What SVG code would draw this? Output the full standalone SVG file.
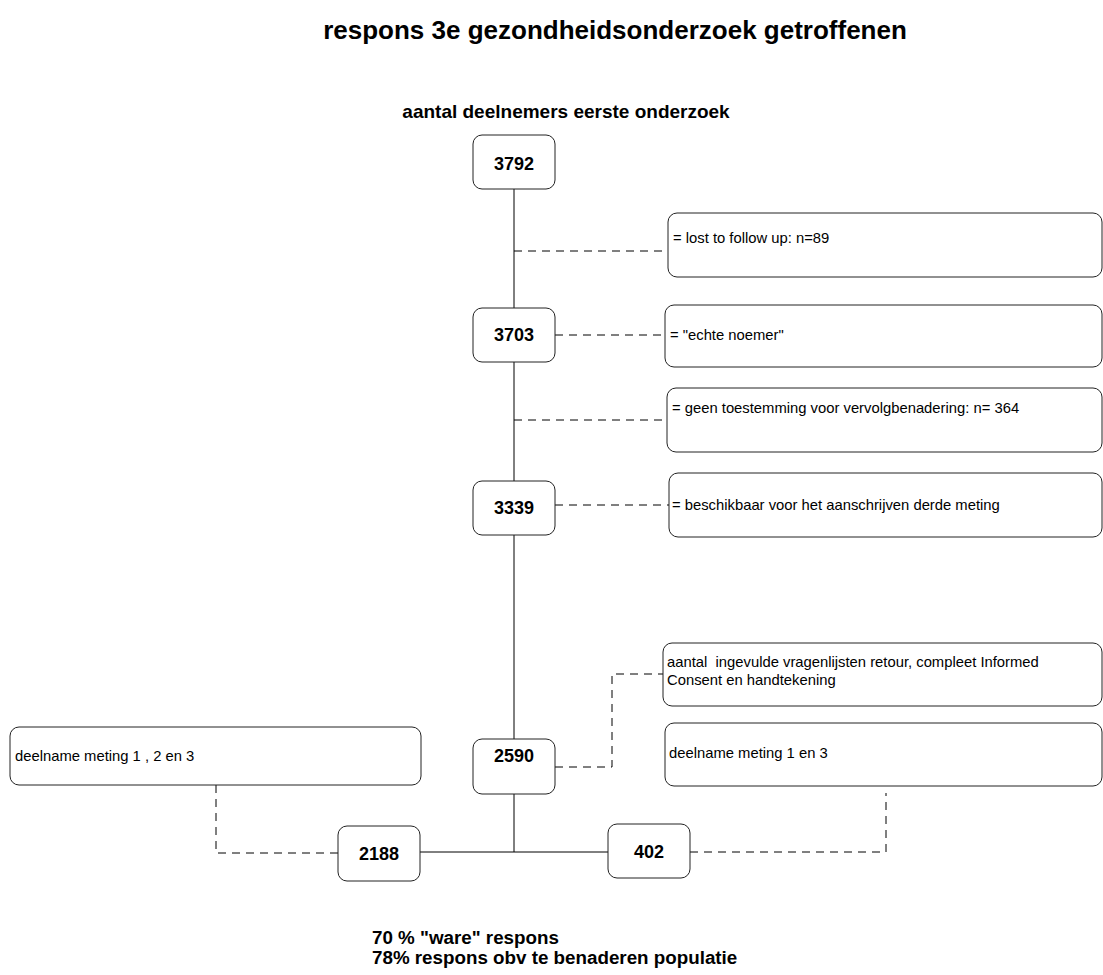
<svg xmlns="http://www.w3.org/2000/svg" width="1103" height="975" viewBox="0 0 1103 975">
<style>
.bg{fill:#ffffff}
.node{fill:#ffffff;stroke:#222;stroke-width:1}
.note{fill:#ffffff;stroke:#222;stroke-width:1}
.num{font-family:"Liberation Sans",Arial,sans-serif;font-weight:bold;font-size:18px;fill:#000;text-anchor:middle}
.lbl{font-family:"Liberation Sans",Arial,sans-serif;font-size:14.8px;fill:#000}
.hdr{font-family:"Liberation Sans",Arial,sans-serif;font-weight:bold;fill:#000}
.solid{fill:none;stroke:#000;stroke-width:1}
.dash{fill:none;stroke:#000;stroke-width:1;stroke-dasharray:8,6}
</style>
<rect class="bg" x="0" y="0" width="1103" height="975"/>
<text class="hdr" x="615" y="39" font-size="26" text-anchor="middle">respons 3e gezondheidsonderzoek getroffenen</text>
<text class="hdr" x="566" y="118" font-size="19" text-anchor="middle">aantal deelnemers eerste onderzoek</text>

<g id="connectors">
<path class="solid" d="M514 189 V308 M514 362 V481 M514 535 V739 M514 794 V852 M420 852 H608"/>
<path class="dash" d="M514 251 H668"/>
<path class="dash" d="M555 335 H665"/>
<path class="dash" d="M514 420 H667"/>
<path class="dash" d="M555 505 H669"/>
<path class="dash" d="M555 767 H612 V674 H663"/>
<path class="dash" d="M690 852 H886 V793"/>
<path class="dash" d="M216 785 V853 H338"/>
</g>

<g id="n3792"><rect class="node" x="473" y="135" width="82" height="54" rx="9"/><text class="num" x="514" y="170">3792</text></g>
<g id="n3703"><rect class="node" x="473" y="308" width="82" height="54" rx="9"/><text class="num" x="514" y="341">3703</text></g>
<g id="n3339"><rect class="node" x="473" y="481" width="82" height="54" rx="9"/><text class="num" x="514" y="514">3339</text></g>
<g id="n2590"><rect class="node" x="473" y="739" width="82" height="55" rx="9"/><text class="num" x="514" y="762">2590</text></g>
<g id="n2188"><rect class="node" x="338" y="826" width="82" height="55" rx="9"/><text class="num" x="379" y="860">2188</text></g>
<g id="n402"><rect class="node" x="608" y="824" width="82" height="54" rx="9"/><text class="num" x="649" y="858">402</text></g>

<g id="noteLost"><rect class="note" x="668" y="213" width="434" height="64" rx="9"/><text class="lbl" x="673" y="243">= lost to follow up: n=89</text></g>
<g id="noteEchte"><rect class="note" x="665" y="305" width="437" height="62" rx="9"/><text class="lbl" x="670" y="340">= "echte noemer"</text></g>
<g id="noteGeen"><rect class="note" x="667" y="388" width="435" height="64" rx="9"/><text class="lbl" x="672" y="413">= geen toestemming voor vervolgbenadering: n= 364</text></g>
<g id="noteBeschikbaar"><rect class="note" x="669" y="473" width="433" height="64" rx="9"/><text class="lbl" x="672" y="510">= beschikbaar voor het aanschrijven derde meting</text></g>
<g id="noteAantal"><rect class="note" x="663" y="643" width="439" height="63" rx="9"/><text class="lbl" x="667" y="667" xml:space="preserve">aantal  ingevulde vragenlijsten retour, compleet Informed</text><text class="lbl" x="667" y="685">Consent en handtekening</text></g>
<g id="noteMeting13"><rect class="note" x="665" y="723" width="437" height="63" rx="9"/><text class="lbl" x="669" y="758">deelname meting 1 en 3</text></g>
<g id="noteMeting123"><rect class="note" x="10" y="727" width="411" height="58" rx="9"/><text class="lbl" x="15" y="761">deelname meting 1 , 2 en 3</text></g>

<g id="summary">
<text class="hdr" x="372" y="944" font-size="18.8">70 % "ware" respons</text>
<text class="hdr" x="372" y="964" font-size="18.8">78% respons obv te benaderen populatie</text>
</g>
</svg>
